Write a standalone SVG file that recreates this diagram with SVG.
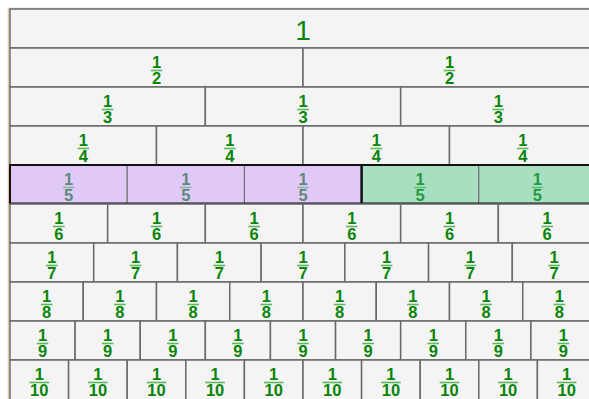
<svg xmlns="http://www.w3.org/2000/svg" width="589" height="399" viewBox="0 0 589 399">
<style>
.c{fill:#f4f4f4;stroke:#6a6a6a;stroke-width:1.5}
.p{fill:#e1c9f7;stroke:#6a6a6a;stroke-width:1}
.g{fill:#a8dfc0;stroke:#6a6a6a;stroke-width:1}
.t{font-family:"Liberation Sans",Arial,sans-serif;font-weight:bold;font-size:16.5px;fill:#0a840a;text-anchor:middle}
.b{stroke:#5cb85c;stroke-width:1.6;stroke-linecap:square}
.pt{fill:#5b8b7b}
.pb{stroke:#8fb3a5}
.gt{fill:#1f9a40}
.gb{stroke:#5cc07a}
.one{font-family:"Liberation Sans",Arial,sans-serif;font-size:28px;fill:#0a840a;text-anchor:middle}
.edge{fill:none;stroke:#e3c6a6;stroke-width:1.5}
.blk{fill:none;stroke:#111;stroke-width:2}
</style>
<rect x="0" y="0" width="589" height="399" fill="#ffffff"/>
<rect class="edge" x="8.5" y="8.5" width="600" height="400"/>
<g id="row1"><g id="r1c1"><rect class="c" x="10" y="9" width="586" height="39"/><text class="one" x="303" y="40">1</text></g></g>
<g id="row2">
<g id="r2c1"><rect class="c" x="10" y="48" width="293" height="39"/><text class="t" x="156.5" y="68">1</text><line class="b" x1="151.5" y1="70.5" x2="161.5" y2="70.5"/><text class="t" x="156.5" y="83.5">2</text></g>
<g id="r2c2"><rect class="c" x="303" y="48" width="293" height="39"/><text class="t" x="449.5" y="68">1</text><line class="b" x1="444.5" y1="70.5" x2="454.5" y2="70.5"/><text class="t" x="449.5" y="83.5">2</text></g>
</g>
<g id="row3">
<g id="r3c1"><rect class="c" x="10" y="87" width="195.33" height="39"/><text class="t" x="107.67" y="107">1</text><line class="b" x1="102.67" y1="109.5" x2="112.67" y2="109.5"/><text class="t" x="107.67" y="122.5">3</text></g>
<g id="r3c2"><rect class="c" x="205.33" y="87" width="195.33" height="39"/><text class="t" x="303" y="107">1</text><line class="b" x1="298" y1="109.5" x2="308" y2="109.5"/><text class="t" x="303" y="122.5">3</text></g>
<g id="r3c3"><rect class="c" x="400.67" y="87" width="195.33" height="39"/><text class="t" x="498.33" y="107">1</text><line class="b" x1="493.33" y1="109.5" x2="503.33" y2="109.5"/><text class="t" x="498.33" y="122.5">3</text></g>
</g>
<g id="row4">
<g id="r4c1"><rect class="c" x="10" y="126" width="146.5" height="39"/><text class="t" x="83.25" y="146">1</text><line class="b" x1="78.25" y1="148.5" x2="88.25" y2="148.5"/><text class="t" x="83.25" y="161.5">4</text></g>
<g id="r4c2"><rect class="c" x="156.5" y="126" width="146.5" height="39"/><text class="t" x="229.75" y="146">1</text><line class="b" x1="224.75" y1="148.5" x2="234.75" y2="148.5"/><text class="t" x="229.75" y="161.5">4</text></g>
<g id="r4c3"><rect class="c" x="303" y="126" width="146.5" height="39"/><text class="t" x="376.25" y="146">1</text><line class="b" x1="371.25" y1="148.5" x2="381.25" y2="148.5"/><text class="t" x="376.25" y="161.5">4</text></g>
<g id="r4c4"><rect class="c" x="449.5" y="126" width="146.5" height="39"/><text class="t" x="522.75" y="146">1</text><line class="b" x1="517.75" y1="148.5" x2="527.75" y2="148.5"/><text class="t" x="522.75" y="161.5">4</text></g>
</g>
<g id="row5">
<g id="r5c1"><rect class="p" x="10" y="165" width="117.2" height="39"/><text class="t pt" x="68.6" y="185">1</text><line class="b pb" x1="63.6" y1="187.5" x2="73.6" y2="187.5"/><text class="t pt" x="68.6" y="200.5">5</text></g>
<g id="r5c2"><rect class="p" x="127.2" y="165" width="117.2" height="39"/><text class="t pt" x="185.8" y="185">1</text><line class="b pb" x1="180.8" y1="187.5" x2="190.8" y2="187.5"/><text class="t pt" x="185.8" y="200.5">5</text></g>
<g id="r5c3"><rect class="p" x="244.4" y="165" width="117.2" height="39"/><text class="t pt" x="303" y="185">1</text><line class="b pb" x1="298" y1="187.5" x2="308" y2="187.5"/><text class="t pt" x="303" y="200.5">5</text></g>
<g id="r5c4"><rect class="g" x="361.6" y="165" width="117.2" height="39"/><text class="t gt" x="420.2" y="185">1</text><line class="b gb" x1="415.2" y1="187.5" x2="425.2" y2="187.5"/><text class="t gt" x="420.2" y="200.5">5</text></g>
<g id="r5c5"><rect class="g" x="478.8" y="165" width="117.2" height="39"/><text class="t gt" x="537.4" y="185">1</text><line class="b gb" x1="532.4" y1="187.5" x2="542.4" y2="187.5"/><text class="t gt" x="537.4" y="200.5">5</text></g>
<rect class="blk" x="10" y="165" width="351.6" height="38.5"/>
<rect class="blk" x="361.6" y="165" width="234.4" height="38.5"/>
</g>
<g id="row6">
<g id="r6c1"><rect class="c" x="10" y="204" width="97.67" height="39"/><text class="t" x="58.83" y="224">1</text><line class="b" x1="53.83" y1="226.5" x2="63.83" y2="226.5"/><text class="t" x="58.83" y="239.5">6</text></g>
<g id="r6c2"><rect class="c" x="107.67" y="204" width="97.67" height="39"/><text class="t" x="156.5" y="224">1</text><line class="b" x1="151.5" y1="226.5" x2="161.5" y2="226.5"/><text class="t" x="156.5" y="239.5">6</text></g>
<g id="r6c3"><rect class="c" x="205.33" y="204" width="97.67" height="39"/><text class="t" x="254.17" y="224">1</text><line class="b" x1="249.17" y1="226.5" x2="259.17" y2="226.5"/><text class="t" x="254.17" y="239.5">6</text></g>
<g id="r6c4"><rect class="c" x="303" y="204" width="97.67" height="39"/><text class="t" x="351.83" y="224">1</text><line class="b" x1="346.83" y1="226.5" x2="356.83" y2="226.5"/><text class="t" x="351.83" y="239.5">6</text></g>
<g id="r6c5"><rect class="c" x="400.67" y="204" width="97.67" height="39"/><text class="t" x="449.5" y="224">1</text><line class="b" x1="444.5" y1="226.5" x2="454.5" y2="226.5"/><text class="t" x="449.5" y="239.5">6</text></g>
<g id="r6c6"><rect class="c" x="498.33" y="204" width="97.67" height="39"/><text class="t" x="547.17" y="224">1</text><line class="b" x1="542.17" y1="226.5" x2="552.17" y2="226.5"/><text class="t" x="547.17" y="239.5">6</text></g>
</g>
<g id="row7">
<g id="r7c1"><rect class="c" x="10" y="243" width="83.71" height="39"/><text class="t" x="51.86" y="263">1</text><line class="b" x1="46.86" y1="265.5" x2="56.86" y2="265.5"/><text class="t" x="51.86" y="278.5">7</text></g>
<g id="r7c2"><rect class="c" x="93.71" y="243" width="83.71" height="39"/><text class="t" x="135.57" y="263">1</text><line class="b" x1="130.57" y1="265.5" x2="140.57" y2="265.5"/><text class="t" x="135.57" y="278.5">7</text></g>
<g id="r7c3"><rect class="c" x="177.43" y="243" width="83.71" height="39"/><text class="t" x="219.29" y="263">1</text><line class="b" x1="214.29" y1="265.5" x2="224.29" y2="265.5"/><text class="t" x="219.29" y="278.5">7</text></g>
<g id="r7c4"><rect class="c" x="261.14" y="243" width="83.71" height="39"/><text class="t" x="303" y="263">1</text><line class="b" x1="298" y1="265.5" x2="308" y2="265.5"/><text class="t" x="303" y="278.5">7</text></g>
<g id="r7c5"><rect class="c" x="344.86" y="243" width="83.71" height="39"/><text class="t" x="386.71" y="263">1</text><line class="b" x1="381.71" y1="265.5" x2="391.71" y2="265.5"/><text class="t" x="386.71" y="278.5">7</text></g>
<g id="r7c6"><rect class="c" x="428.57" y="243" width="83.71" height="39"/><text class="t" x="470.43" y="263">1</text><line class="b" x1="465.43" y1="265.5" x2="475.43" y2="265.5"/><text class="t" x="470.43" y="278.5">7</text></g>
<g id="r7c7"><rect class="c" x="512.29" y="243" width="83.71" height="39"/><text class="t" x="554.14" y="263">1</text><line class="b" x1="549.14" y1="265.5" x2="559.14" y2="265.5"/><text class="t" x="554.14" y="278.5">7</text></g>
</g>
<g id="row8">
<g id="r8c1"><rect class="c" x="10" y="282" width="73.25" height="39"/><text class="t" x="46.63" y="302">1</text><line class="b" x1="41.63" y1="304.5" x2="51.63" y2="304.5"/><text class="t" x="46.63" y="317.5">8</text></g>
<g id="r8c2"><rect class="c" x="83.25" y="282" width="73.25" height="39"/><text class="t" x="119.88" y="302">1</text><line class="b" x1="114.88" y1="304.5" x2="124.88" y2="304.5"/><text class="t" x="119.88" y="317.5">8</text></g>
<g id="r8c3"><rect class="c" x="156.5" y="282" width="73.25" height="39"/><text class="t" x="193.13" y="302">1</text><line class="b" x1="188.13" y1="304.5" x2="198.13" y2="304.5"/><text class="t" x="193.13" y="317.5">8</text></g>
<g id="r8c4"><rect class="c" x="229.75" y="282" width="73.25" height="39"/><text class="t" x="266.38" y="302">1</text><line class="b" x1="261.38" y1="304.5" x2="271.38" y2="304.5"/><text class="t" x="266.38" y="317.5">8</text></g>
<g id="r8c5"><rect class="c" x="303" y="282" width="73.25" height="39"/><text class="t" x="339.63" y="302">1</text><line class="b" x1="334.63" y1="304.5" x2="344.63" y2="304.5"/><text class="t" x="339.63" y="317.5">8</text></g>
<g id="r8c6"><rect class="c" x="376.25" y="282" width="73.25" height="39"/><text class="t" x="412.88" y="302">1</text><line class="b" x1="407.88" y1="304.5" x2="417.88" y2="304.5"/><text class="t" x="412.88" y="317.5">8</text></g>
<g id="r8c7"><rect class="c" x="449.5" y="282" width="73.25" height="39"/><text class="t" x="486.13" y="302">1</text><line class="b" x1="481.13" y1="304.5" x2="491.13" y2="304.5"/><text class="t" x="486.13" y="317.5">8</text></g>
<g id="r8c8"><rect class="c" x="522.75" y="282" width="73.25" height="39"/><text class="t" x="559.38" y="302">1</text><line class="b" x1="554.38" y1="304.5" x2="564.38" y2="304.5"/><text class="t" x="559.38" y="317.5">8</text></g>
</g>
<g id="row9">
<g id="r9c1"><rect class="c" x="10" y="321" width="65.11" height="39"/><text class="t" x="42.56" y="341">1</text><line class="b" x1="37.56" y1="343.5" x2="47.56" y2="343.5"/><text class="t" x="42.56" y="356.5">9</text></g>
<g id="r9c2"><rect class="c" x="75.11" y="321" width="65.11" height="39"/><text class="t" x="107.67" y="341">1</text><line class="b" x1="102.67" y1="343.5" x2="112.67" y2="343.5"/><text class="t" x="107.67" y="356.5">9</text></g>
<g id="r9c3"><rect class="c" x="140.22" y="321" width="65.11" height="39"/><text class="t" x="172.78" y="341">1</text><line class="b" x1="167.78" y1="343.5" x2="177.78" y2="343.5"/><text class="t" x="172.78" y="356.5">9</text></g>
<g id="r9c4"><rect class="c" x="205.33" y="321" width="65.11" height="39"/><text class="t" x="237.89" y="341">1</text><line class="b" x1="232.89" y1="343.5" x2="242.89" y2="343.5"/><text class="t" x="237.89" y="356.5">9</text></g>
<g id="r9c5"><rect class="c" x="270.44" y="321" width="65.11" height="39"/><text class="t" x="303" y="341">1</text><line class="b" x1="298" y1="343.5" x2="308" y2="343.5"/><text class="t" x="303" y="356.5">9</text></g>
<g id="r9c6"><rect class="c" x="335.56" y="321" width="65.11" height="39"/><text class="t" x="368.11" y="341">1</text><line class="b" x1="363.11" y1="343.5" x2="373.11" y2="343.5"/><text class="t" x="368.11" y="356.5">9</text></g>
<g id="r9c7"><rect class="c" x="400.67" y="321" width="65.11" height="39"/><text class="t" x="433.22" y="341">1</text><line class="b" x1="428.22" y1="343.5" x2="438.22" y2="343.5"/><text class="t" x="433.22" y="356.5">9</text></g>
<g id="r9c8"><rect class="c" x="465.78" y="321" width="65.11" height="39"/><text class="t" x="498.33" y="341">1</text><line class="b" x1="493.33" y1="343.5" x2="503.33" y2="343.5"/><text class="t" x="498.33" y="356.5">9</text></g>
<g id="r9c9"><rect class="c" x="530.89" y="321" width="65.11" height="39"/><text class="t" x="563.44" y="341">1</text><line class="b" x1="558.44" y1="343.5" x2="568.44" y2="343.5"/><text class="t" x="563.44" y="356.5">9</text></g>
</g>
<g id="row10">
<g id="r10c1"><rect class="c" x="10" y="360" width="58.6" height="40"/><text class="t" x="39.3" y="380">1</text><line class="b" x1="30.3" y1="382.5" x2="48.3" y2="382.5"/><text class="t" x="39.3" y="396">10</text></g>
<g id="r10c2"><rect class="c" x="68.6" y="360" width="58.6" height="40"/><text class="t" x="97.9" y="380">1</text><line class="b" x1="88.9" y1="382.5" x2="106.9" y2="382.5"/><text class="t" x="97.9" y="396">10</text></g>
<g id="r10c3"><rect class="c" x="127.2" y="360" width="58.6" height="40"/><text class="t" x="156.5" y="380">1</text><line class="b" x1="147.5" y1="382.5" x2="165.5" y2="382.5"/><text class="t" x="156.5" y="396">10</text></g>
<g id="r10c4"><rect class="c" x="185.8" y="360" width="58.6" height="40"/><text class="t" x="215.1" y="380">1</text><line class="b" x1="206.1" y1="382.5" x2="224.1" y2="382.5"/><text class="t" x="215.1" y="396">10</text></g>
<g id="r10c5"><rect class="c" x="244.4" y="360" width="58.6" height="40"/><text class="t" x="273.7" y="380">1</text><line class="b" x1="264.7" y1="382.5" x2="282.7" y2="382.5"/><text class="t" x="273.7" y="396">10</text></g>
<g id="r10c6"><rect class="c" x="303" y="360" width="58.6" height="40"/><text class="t" x="332.3" y="380">1</text><line class="b" x1="323.3" y1="382.5" x2="341.3" y2="382.5"/><text class="t" x="332.3" y="396">10</text></g>
<g id="r10c7"><rect class="c" x="361.6" y="360" width="58.6" height="40"/><text class="t" x="390.9" y="380">1</text><line class="b" x1="381.9" y1="382.5" x2="399.9" y2="382.5"/><text class="t" x="390.9" y="396">10</text></g>
<g id="r10c8"><rect class="c" x="420.2" y="360" width="58.6" height="40"/><text class="t" x="449.5" y="380">1</text><line class="b" x1="440.5" y1="382.5" x2="458.5" y2="382.5"/><text class="t" x="449.5" y="396">10</text></g>
<g id="r10c9"><rect class="c" x="478.8" y="360" width="58.6" height="40"/><text class="t" x="508.1" y="380">1</text><line class="b" x1="499.1" y1="382.5" x2="517.1" y2="382.5"/><text class="t" x="508.1" y="396">10</text></g>
<g id="r10c10"><rect class="c" x="537.4" y="360" width="58.6" height="40"/><text class="t" x="566.7" y="380">1</text><line class="b" x1="557.7" y1="382.5" x2="575.7" y2="382.5"/><text class="t" x="566.7" y="396">10</text></g>
</g>
<g id="connectors"></g>
</svg>
